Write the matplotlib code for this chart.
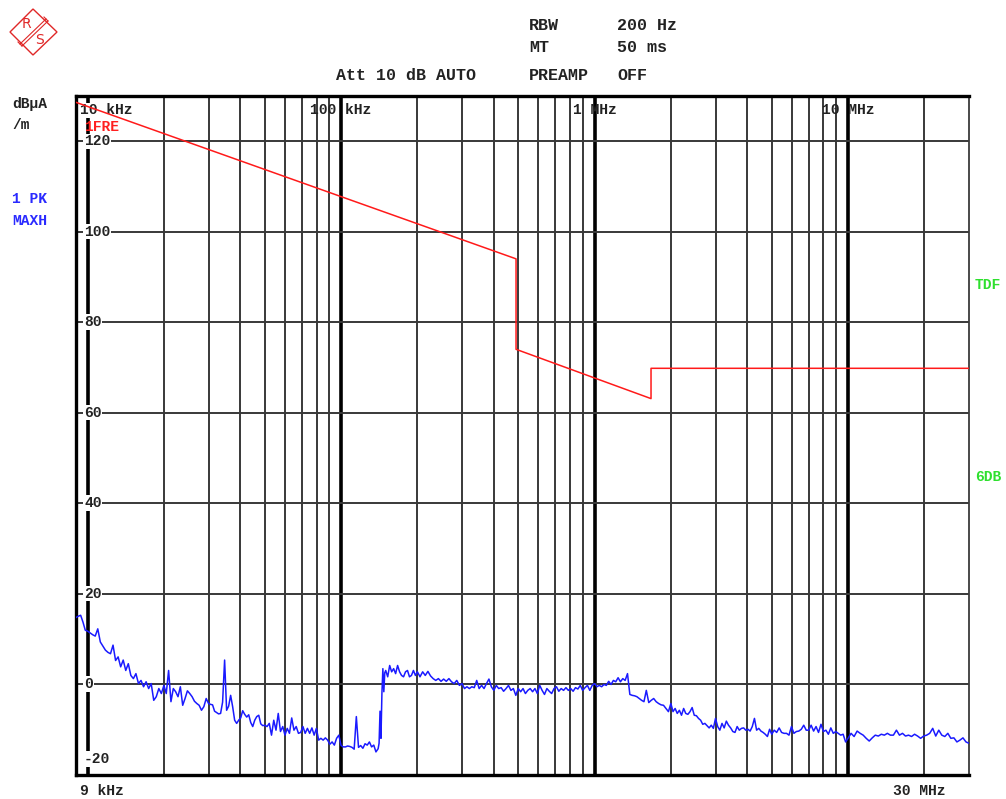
import numpy as np
import matplotlib.pyplot as plt
from matplotlib import transforms
from matplotlib.patches import Polygon
from matplotlib.ticker import NullLocator

## 리밋 라인 (dBuA/m)
lim_freq = [9e3, 490e3, 490e3, 1.67e6, 1.67e6, 30e6]
lim_level = [128.6, 94.0, 74.0, 63.1, 69.8, 69.8]

## 1 PK MAXH 트레이스 - 구간별로 로그 간격 스윕
seg_edges = [9e3, 10e3, 20e3, 30e3, 50e3, 100e3, 140e3, 150e3, 200e3,
             300e3, 500e3, 1e6, 1.6e6, 2e6, 3e6, 5e6, 10e6, 30e6]

lv_9k = [14.7, 15.0, 15.2, 13.7, 11.9]
lv_10k = [11.7, 11.3, 10.9, 10.6, 12.2, 9.3, 8.4, 7.5, 7.0, 6.7, 8.6, 5.2, 6.0, 3.8, 5.3,
          3.0, 4.5, 1.9, 1.2, 2.3, 0.1, 0.8, -0.6, 0.5, -1.0, 0.1, -3.6, -2.8, -1.0, -2.1]
lv_20k = [-0.3, -2.1, 3.0, -3.9, -1.0, -1.7, -2.8, -0.6, -4.7, -3.2, -1.5, -2.1, -2.8,
          -3.8, -4.3, -4.7, -5.8, -5.0, -3.2]
lv_30k = [-4.3, -4.5, -4.6, -6.0, -6.3, -6.6, -6.5, -4.0, 5.3, -5.8, -4.9, -2.5, -5.0, -8.0,
          -8.7, -8.0, -7.5, -5.9, -6.7, -7.3, -6.8, -8.5, -9.4, -8.0, -7.2, -6.9, -8.8, -9.2]
lv_50k = [-9.1, -9.4, -8.7, -11.3, -8.0, -10.2, -6.5, -10.5, -9.4, -11.3, -9.8, -10.9, -7.5,
          -10.2, -9.4, -10.9, -10.7, -9.4, -10.9, -9.8, -10.9, -9.7, -11.3, -9.8, -12.4, -12.0,
          -12.4, -11.9, -12.4, -13.3, -12.8, -13.5, -12.0, -11.3]
lv_100k = [-13.6, -13.9, -13.9, -13.7, -13.8, -14.0, -14.4, -7.2, -14.0, -13.6, -14.2, -13.2,
           -13.5, -12.8, -13.9, -13.5, -15.0]
lv_140k = [-14.3, -13.1, -6.0, -12.0, -2.0, 3.4, -1.7, 2.5]
lv_150k = [3.0, 1.6, 4.1, 2.7, 3.4, 2.3, 4.1, 2.7, 1.9, 1.6, 2.7, 3.0, 1.6, 1.9, 3.0, 1.9]
lv_200k = [2.7, 1.6, 2.7, 1.9, 2.8, 1.8, 1.2, 0.8, 1.2, 0.6, 1.1, 0.6, 1.2, 0.5, 0.1, 0.8, -0.3]
lv_300k = [0.1, -1.0, -0.6, -1.0, -0.6, -0.8, 0.8, -1.0, -0.3, -1.0, 0.1, 1.1, -0.6, -1.4,
           -0.3, -1.0, -0.8, -1.6, -1.0, -0.3, -1.4, -1.0, -2.5]
lv_500k = [-1.0, -1.7, -1.0, -2.1, -1.4, -1.0, -1.7, -1.0, -2.1, -0.3, -1.4, -2.3, -1.0, -1.6,
           -2.1, -1.0, -0.6, -1.6, -1.0, -1.4, -0.8, -1.4, -1.0, -1.6, -0.8, -1.1, -0.3, -1.4,
           -0.8, -0.3, -1.4, -0.3]
lv_1m = [0.1, -0.6, -0.3, -0.6, -0.1, -0.3, 0.6, -0.1, 0.8, 0.5, 1.4, 0.5, 1.2, 0.8, 2.3,
         -2.3, -2.5, -2.6, -2.8, -3.2, -3.6, -3.9]
lv_1m6 = [-1.4, -4.1, -3.6, -3.2, -3.9, -4.3, -4.6, -4.7, -5.4, -6.1]
lv_2m = [-4.3, -6.1, -5.4, -6.5, -5.8, -6.9, -5.4, -6.5, -6.7, -6.1, -5.2, -6.9, -7.0, -7.6,
         -8.0, -8.9, -8.7, -9.2, -9.7, -9.1, -9.8]
lv_3m = [-7.6, -9.4, -10.2, -8.7, -9.7, -8.2, -9.1, -9.7, -10.5, -10.7, -9.4, -10.2, -9.8,
         -9.7, -10.2, -10.0, -10.4, -9.4, -7.6, -10.2, -9.8, -10.4, -10.7, -11.1, -11.6, -10.0]
lv_5m = [-11.1, -10.2, -10.7, -9.7, -10.7, -10.9, -10.9, -11.3, -9.4, -10.9, -10.5, -10.4,
         -10.0, -9.1, -10.2, -10.2, -9.1, -10.4, -9.4, -10.7, -8.9, -10.5, -10.2, -11.1, -9.7,
         -10.9, -10.5, -10.9, -11.3, -11.1, -12.8]
lv_10m = [-12.0, -10.9, -11.6, -10.4, -10.9, -11.3, -12.0, -12.6, -11.9, -11.3, -11.5, -11.1,
          -11.3, -10.9, -11.3, -11.3, -10.2, -11.3, -10.9, -11.5, -11.3, -11.6, -11.1, -11.5,
          -12.0, -11.5, -11.3, -10.9, -9.8, -11.5, -10.2, -11.3, -11.6, -10.9, -12.0, -11.9,
          -12.8, -12.4, -11.9, -12.8, -13.1]

seg_levels = [lv_9k, lv_10k, lv_20k, lv_30k, lv_50k, lv_100k, lv_140k, lv_150k, lv_200k,
              lv_300k, lv_500k, lv_1m, lv_1m6, lv_2m, lv_3m, lv_5m, lv_10m]

freq, level = [], []
for i, lv in enumerate(seg_levels):
    last = (i == len(seg_levels) - 1)
    f = np.geomspace(seg_edges[i], seg_edges[i + 1], len(lv), endpoint=last)
    freq.extend(f)
    level.extend(lv)

y_labels = [120, 100, 80, 60, 40, 20, 0]
decades = [1e4, 1e5, 1e6, 1e7]
decade_names = ['10 kHz', '100 kHz', '1 MHz', '10 MHz']

## 그래프
W, H = 1006, 799
L, R, T, B = 76, 969, 96, 774.5
mono = ['Liberation Mono', 'DejaVu Sans Mono']
txt_black = '#222222'
fs = 10.5

fig = plt.figure(figsize=(W / 100, H / 100), dpi=100)
ax = fig.add_axes([L / W, 1 - B / H, (R - L) / W, (B - T) / H])
ax.set_xscale('log')
ax.set_xlim(9e3, 30e6)
ax.set_ylim(-20, 130)
ax.xaxis.set_minor_locator(NullLocator())
ax.set_xticks([])
ax.set_yticks([])

# 격자
for e in range(4, 8):
    for m in range(2, 10):
        if m * 10 ** e < 30e6:
            ax.axvline(m * 10 ** e, color='#383838', lw=1.4, zorder=1)
for d in decades:
    ax.axvline(d, color='black', lw=2.6, zorder=1)
for v in y_labels:
    ax.axhline(v, color='#383838', lw=1.4, zorder=1)

for side in ['top', 'left', 'bottom']:
    ax.spines[side].set_linewidth(2.4)
    ax.spines[side].set_color('black')
ax.spines['right'].set_linewidth(1.3)
ax.spines['right'].set_color('#3c3c3c')

# 트레이스
ax.plot(freq, level, color='#1a1aff', lw=1.1, zorder=4)
ax.plot(lim_freq, lim_level, color='#ff1a1a', lw=1.1, zorder=8)

# 축 라벨 (안쪽)
ty = transforms.blended_transform_factory(ax.transAxes, ax.transData)
box = dict(facecolor='white', edgecolor='none', pad=0.5)
for v in y_labels:
    ax.text(0.009, v, str(v), transform=ty, ha='left', va='center', family=mono,
            fontsize=fs, weight='bold', color=txt_black, bbox=box, zorder=6)
ax.text(0.009, 0.023, '-20', transform=ax.transAxes, ha='left', va='center', family=mono,
        fontsize=fs, weight='bold', color=txt_black, bbox=box, zorder=6)

tx = transforms.blended_transform_factory(ax.transData, ax.transAxes)
ax.text(0.005, 0.979, decade_names[0], transform=ax.transAxes, ha='left', va='center',
        family=mono, fontsize=fs, weight='bold', color=txt_black, bbox=box, zorder=6)
for d, name in zip(decades[1:], decade_names[1:]):
    ax.text(d, 0.979, name, transform=tx, ha='center', va='center', family=mono,
            fontsize=fs, weight='bold', color=txt_black, zorder=6)
ax.text(0.009, 0.955, '1FRE', transform=ax.transAxes, ha='left', va='center', family=mono,
        fontsize=fs, weight='bold', color='#ff2020', zorder=6)


# 바깥 텍스트 (픽셀 좌표)
def ftext(x, y, s, color=txt_black, size=fs, ha='left'):
    fig.text(x / W, 1 - y / H, s, ha=ha, va='center', family=mono, fontsize=size,
             weight='bold', color=color)


ftext(529, 25, 'RBW', size=12)
ftext(617, 25, '200 Hz', size=12)
ftext(529, 48, 'MT', size=12)
ftext(617, 48, '50 ms', size=12)
ftext(336, 75, 'Att 10 dB AUTO', size=12)
ftext(529, 75, 'PREAMP', size=12)
ftext(617, 75, 'OFF', size=12)

ftext(12, 104, 'dBµA')
ftext(12, 125, '/m')
ftext(12, 199, '1 PK', color='#2a2aff')
ftext(12, 221, 'MAXH', color='#2a2aff')
ftext(975, 285, 'TDF', color='#2ee02e')
ftext(975, 477, '6DB', color='#2ee02e')
ftext(80, 791, '9 kHz')
ftext(893, 791, '30 MHz')

# 로고
deco = fig.add_axes([0, 0, 1, 1], zorder=-1)
deco.set_xlim(0, W)
deco.set_ylim(H, 0)
deco.axis('off')
logo_red = '#e02828'
deco.add_patch(Polygon([(33, 9), (57, 32), (33, 55), (10, 32)], closed=True, fill=False,
                       edgecolor=logo_red, lw=1.0))
deco.plot([20, 46], [44, 19], color=logo_red, lw=0.8)
deco.plot([22, 48], [46, 21], color=logo_red, lw=0.8)
deco.plot([18, 22], [42, 46], color=logo_red, lw=0.8)
deco.plot([44, 48], [17, 21], color=logo_red, lw=0.8)
deco.text(26, 24, 'R', ha='center', va='center', color=logo_red, fontsize=10,
          family='DejaVu Sans')
deco.text(40, 40, 'S', ha='center', va='center', color=logo_red, fontsize=10,
          family='DejaVu Sans')

fig.savefig('out.png', dpi=100, facecolor='white')
